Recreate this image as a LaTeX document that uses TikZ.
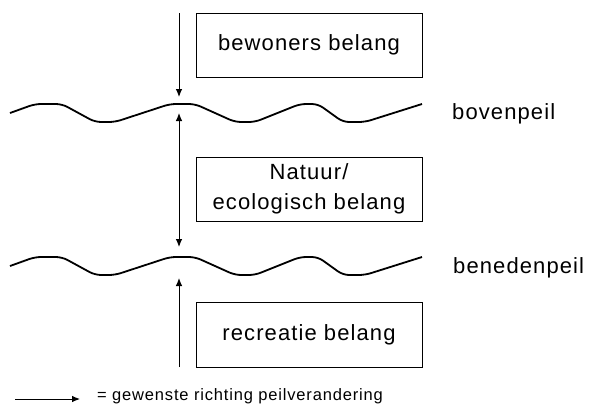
\documentclass[tikz,border=0pt]{standalone}
\usepackage{fontspec}
\setmainfont{Liberation Sans}[LetterSpace=5]
\usetikzlibrary{arrows.meta}
\begin{document}
\begin{tikzpicture}[x=1pt,y=-1pt,
  belangbox/.style={draw, line width=0.9pt, minimum width=226pt, minimum height=64pt,
    inner sep=0pt, font=\fontsize{22}{30}\selectfont, align=center},
  peillabel/.style={anchor=base west, inner sep=0pt, font=\fontsize{22}{26}\selectfont},
  waterline/.style={line width=1.8pt, rounded corners=6pt},
  richting/.style={line width=0.9pt, -{Latex[length=8pt,width=6.5pt]}},
  richting2/.style={line width=0.9pt, {Latex[length=8pt,width=6.5pt]}-{Latex[length=8pt,width=6.5pt]}}]
\useasboundingbox (0,0) rectangle (608,405);

% boxes for the three interests
\node[belangbox] (bewoners) at (309,45) {bewoners belang};
\node[belangbox] (natuur) at (309,189) {Natuur/\\ecologisch belang};
\node[belangbox, minimum height=65pt] (recreatie) at (309,334.5) {recreatie belang};

% water levels
\foreach \dy in {0, 153} {
  \begin{scope}[yshift=-\dy pt]
    \draw[waterline] (10,113) -- (35,104) -- (62,104) -- (95,122) -- (115,122)
      -- (170,104) -- (195,104) -- (235,122) -- (255,122) -- (300,104)
      -- (318,104) -- (343,122) -- (365,122) -- (422,104);
  \end{scope}
}
\node[peillabel] (bovenpeil) at (452,119) {bovenpeil};
\node[peillabel] (benedenpeil) at (453,273) {benedenpeil};

% desired directions of level change
\coordinate (a1s) at (179,13);
\coordinate (a1e) at (179,97);
\coordinate (a2s) at (179,113);
\coordinate (a2e) at (179,247);
\coordinate (a3s) at (179,367);
\coordinate (a3e) at (179,278);
\draw[richting] (a1s) -- (a1e);
\draw[richting2] (a2s) -- (a2e);
\draw[richting] (a3s) -- (a3e);

% legend
\coordinate (ls) at (15,399);
\coordinate (le) at (80,399);
\draw[richting] (ls) -- (le);
\node[anchor=base west, inner sep=0pt, font=\fontsize{16.5}{20}\selectfont] (legenda) at (97,400)
  {= gewenste richting peilverandering};
\end{tikzpicture}
\end{document}
